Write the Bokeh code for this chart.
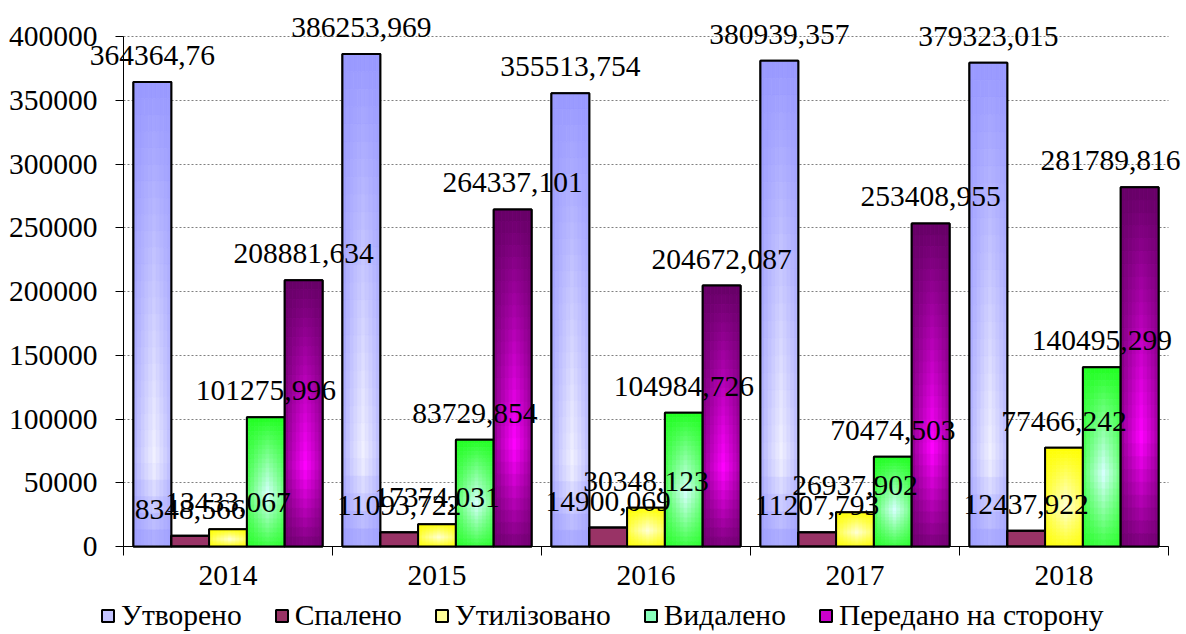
import numpy as np
from bokeh.plotting import figure
from bokeh.models import (Range1d, FixedTicker, ColumnDataSource, LabelSet,
                          Legend, LegendItem)
from bokeh.embed import file_html
from bokeh.resources import INLINE

# ---- data -------------------------------------------------------------
years = ["2014", "2015", "2016", "2017", "2018"]
series_names = ["Утворено", "Спалено", "Утилізовано", "Видалено",
                "Передано на сторону"]
utvoreno = [364364.76, 386253.969, 355513.754, 380939.357, 379323.015]
spaleno = [8348.566, 11093.722, 14900.069, 11207.793, 12437.922]
utylizovano = [13433.067, 17374.031, 30348.123, 26937.902, 77466.242]
vydaleno = [101275.996, 83729.854, 104984.726, 70474.503, 140495.299]
peredano = [208881.634, 264337.101, 204672.087, 253408.955, 281789.816]
y_ticks = [0, 50000, 100000, 150000, 200000, 250000, 300000, 350000, 400000]

all_series = [utvoreno, spaleno, utylizovano, vydaleno, peredano]

# ---- layout / styling -------------------------------------------------
W, H = 1186, 634
FONT = "Liberation Serif"
FS_PX = 29.5
FS = f"{FS_PX}px"
BAR_W = 0.181
Y_MAX = y_ticks[-1]
N_GROUPS = len(years)
# pixel box of the axes inside the page; the frame fills the whole page
AX_L, AX_R, AX_T, AX_B = 123, 1168, 36, 546
px_x = (AX_R - AX_L) / N_GROUPS        # pixels per x unit
px_y = (AX_B - AX_T) / Y_MAX           # pixels per y unit
x_range = Range1d(-AX_L / px_x, N_GROUPS + (W - AX_R) / px_x)
y_range = Range1d(-(H - AX_B) / px_y, Y_MAX + AX_T / px_y)

# (edge/top colour, light colour, legend swatch colour, height of brightest band)
styles = [
    ("#9999ff", "#f2f2ff", "#c4c4ff", 0.82),
    ("#993366", "#993366", "#993366", 0.7),
    ("#ffff00", "#ffffd8", "#ffff99", 0.6),
    ("#22ff22", "#d8ffff", "#88ffbb", 0.6),
    ("#660066", "#ff00ff", "#cc00cc", 0.7),
]


def hex2rgb(h):
    h = h.lstrip("#")
    return np.array([int(h[i:i + 2], 16) for i in (0, 2, 4)], dtype=float)


def mix(c0, c1, t):
    c = hex2rgb(c0) * (1 - t) + hex2rgb(c1) * t
    return "#%02x%02x%02x" % tuple(int(round(v)) for v in c)


def vshade(v, peak):
    # brightest below the middle, darker toward top and bottom
    if v < peak:
        return v / peak
    return 1 - 0.85 * (v - peak) / (1 - peak)


def hshade(u):
    return 0.2 + 0.8 * (1 - abs(2 * u - 1.1) / 1.1) ** 0.8


p = figure(width=W, height=H, x_range=x_range, y_range=y_range,
           output_backend="svg", toolbar_location=None,
           min_border=0, min_border_left=0, min_border_right=0,
           min_border_top=0, min_border_bottom=0)
p.outline_line_color = None
p.background_fill_color = "white"
p.border_fill_color = "white"

p.xgrid.visible = False
p.ygrid.grid_line_color = "#808080"
p.ygrid.grid_line_dash = "2 2"
p.ygrid.grid_line_width = 1
p.ygrid.bounds = (0, Y_MAX)
p.ygrid.cross_bounds = (0, N_GROUPS)

yax = p.yaxis[0]
yax.fixed_location = 0
yax.ticker = FixedTicker(ticks=y_ticks)
yax.bounds = (0, Y_MAX)
yax.major_label_overrides = {t: str(t) for t in y_ticks}
yax.major_tick_out = 8
yax.major_tick_in = 0
yax.minor_tick_line_color = None
yax.major_label_standoff = 18
yax.axis_line_color = "black"
yax.major_label_text_font = FONT
yax.major_label_text_font_size = FS
yax.major_label_text_color = "black"

centers = [i + 0.5 for i in range(N_GROUPS)]
bounds = list(range(N_GROUPS + 1))
xax = p.xaxis[0]
xax.fixed_location = 0
xax.ticker = FixedTicker(ticks=centers, minor_ticks=bounds)
xax.bounds = (0, N_GROUPS)
xax.major_label_overrides = {c: y for c, y in zip(centers, years)}
xax.major_tick_line_color = None
xax.major_tick_out = 0
xax.major_tick_in = 0
xax.minor_tick_out = 9
xax.minor_tick_in = 0
xax.minor_tick_line_color = "black"
xax.major_label_standoff = 10
xax.axis_line_color = "black"
xax.major_label_text_font = FONT
xax.major_label_text_font_size = FS
xax.major_label_text_color = "black"

legend_items = []
label_x, label_y, label_t, label_dx = [], [], [], []
ROWS, COLS = 28, 10

for k, (vals, name, (c0, c1, csw, peak)) in enumerate(zip(all_series, series_names, styles)):
    xs = [c + (k - 2) * BAR_W for c in centers]

    # solid bar (also used as the legend swatch)
    base = p.vbar(x=xs, top=vals, width=BAR_W, bottom=0, fill_color=csw,
                  line_color="black", line_width=2)
    legend_items.append(LegendItem(label=name, renderers=[base]))

    # shaded fill built from small cells inside each bar
    if c0 != c1:
        L, R, T, B, C = [], [], [], [], []
        for x, v in zip(xs, vals):
            for r in range(ROWS):
                vf = vshade((r + 0.5) / ROWS, peak)
                top = v * (1 - r / ROWS)
                bot = v * (1 - (r + 1) / ROWS)
                for c in range(COLS):
                    t = vf * hshade((c + 0.5) / COLS)
                    L.append(x - BAR_W / 2 + BAR_W * c / COLS)
                    R.append(x - BAR_W / 2 + BAR_W * (c + 1) / COLS)
                    T.append(top)
                    B.append(bot)
                    C.append(mix(c0, c1, t))
        src = ColumnDataSource(dict(left=L, right=R, top=T, bottom=B, color=C))
        p.quad(left="left", right="right", top="top", bottom="bottom",
               fill_color="color", line_color="color", line_width=0.6,
               source=src)

    # outline on top
    p.vbar(x=xs, top=vals, width=BAR_W, bottom=0, fill_color=None,
           line_color="black", line_width=2)

    for x, v in zip(xs, vals):
        txt = str(v).replace(".", ",")
        # keep value labels inside the page: nudge left if they would overflow
        est_w = FS_PX * (0.5 * sum(ch.isdigit() for ch in txt) + 0.25 * txt.count(","))
        cx = AX_L + x * px_x
        dx = min(0.0, (W - 6 - est_w / 2) - cx)
        label_x.append(x)
        label_y.append(v)
        label_t.append(txt)
        label_dx.append(dx)

lsrc = ColumnDataSource(dict(x=label_x, y=label_y, text=label_t, dx=label_dx))
labels = LabelSet(x="x", y="y", text="text", source=lsrc, text_align="center",
                  text_baseline="alphabetic", x_offset="dx", y_offset=17,
                  text_font=FONT, text_font_size=FS, text_color="black")
p.add_layout(labels)

legend = Legend(items=legend_items, orientation="horizontal",
                location=(100, 2), label_text_font=FONT,
                label_text_font_size=FS, label_text_color="black",
                glyph_width=15, glyph_height=15, label_standoff=6,
                spacing=32, padding=0, margin=0, border_line_color=None,
                background_fill_alpha=0)
p.add_layout(legend)

open("out.html", "w").write(file_html(p, INLINE))
